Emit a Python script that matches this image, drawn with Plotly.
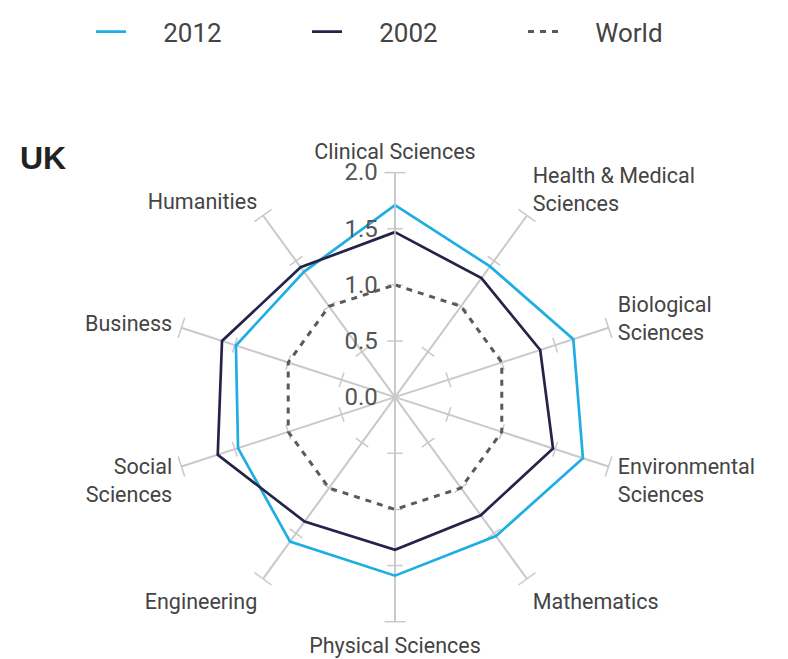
import plotly.graph_objects as go

categories = ["Clinical Sciences", "Health & Medical<br>Sciences", "Biological<br>Sciences",
              "Environmental<br>Sciences", "Mathematics", "Physical Sciences", "Engineering",
              "Social<br>Sciences", "Business", "Humanities"]
uk_2012 = [1.71, 1.44, 1.67, 1.76, 1.53, 1.59, 1.59, 1.47, 1.49, 1.38]
uk_2002 = [1.47, 1.31, 1.36, 1.48, 1.30, 1.36, 1.37, 1.66, 1.62, 1.43]
world = [1.0] * 10
tick_vals = [0.0, 0.5, 1.0, 1.5, 2.0]
tick_text = ["0.0", "0.5", "1.0", "1.5", "2.0"]

FONT = "Roboto"
GRID = "#c9c9c9"
NB = "\u00a0"
fig = go.Figure()

# spoke tick marks
step = 360 / len(categories)
for r in tick_vals[1:]:
    big = r == tick_vals[-1]
    fig.add_trace(go.Scatterpolar(
        r=[r] * len(categories), theta=categories, mode="markers",
        marker=dict(symbol="line-ew", size=15 if big else 11,
                    angle=[step * i for i in range(len(categories))],
                    line=dict(color=GRID, width=1.5)),
        showlegend=False, hoverinfo="skip"))

def closed(v):
    return v + v[:1]

theta_c = categories + categories[:1]
fig.add_trace(go.Scatterpolar(r=closed(uk_2012), theta=theta_c, mode="lines", name=NB * 5 + "2012",
                              line=dict(color="#1faee3", width=2.7)))
fig.add_trace(go.Scatterpolar(r=closed(uk_2002), theta=theta_c, mode="lines", name=NB * 5 + "2002",
                              line=dict(color="#25234a", width=2.7)))
fig.add_trace(go.Scatterpolar(r=closed(world), theta=theta_c, mode="lines", name=NB * 5 + "World",
                              line=dict(color="#5a5a5a", width=3, dash="6px,6px")))

OFF = 8  # page body offset
cx, cy, R = 395 - OFF, 393 - OFF, 228
W, H = 788, 659
fig.update_layout(
    width=W, height=H, margin=dict(l=0, r=0, t=0, b=0),
    paper_bgcolor="white", plot_bgcolor="white",
    font=dict(family=FONT, color="#444"),
    polar=dict(
        domain=dict(x=[(cx - R) / W, (cx + R) / W], y=[(H - cy - R) / H, (H - cy + R) / H]),
        bgcolor="white",
        radialaxis=dict(range=[0, 2], angle=90, tickangle=90, side="counterclockwise",
                        tickvals=tick_vals, ticktext=tick_text, showgrid=False,
                        showline=True, linecolor=GRID, linewidth=1.5,
                        ticks="outside", ticklen=8, tickcolor="rgba(0,0,0,0)",
                        tickfont=dict(size=24, color="#555")),
        angularaxis=dict(rotation=90, direction="clockwise", showgrid=True,
                         gridcolor=GRID, gridwidth=1.5, showline=False,
                         ticks="outside", ticklen=5, tickcolor="rgba(0,0,0,0)",
                         tickfont=dict(size=21.5, color="#444")),
    ),
    legend=dict(orientation="h", x=83 / W, y=1 + 10 / H, xanchor="left", yanchor="top",
                font=dict(size=26, color="#444"), entrywidth=171, entrywidthmode="pixels"),
    annotations=[dict(text="<b>UK</b>", x=(18 - OFF) / W, y=1 - (150 - OFF) / H, xref="paper", yref="paper",
                      xanchor="left", yanchor="middle", showarrow=False,
                      font=dict(size=32, color="#222", family="Liberation Sans"))],
)
fig.write_html("out.html")
